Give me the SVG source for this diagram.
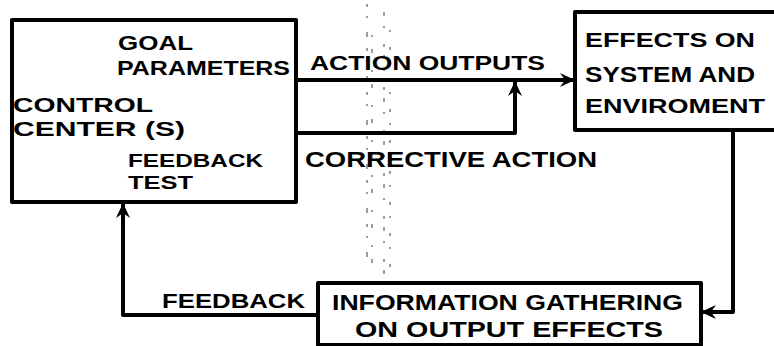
<svg xmlns="http://www.w3.org/2000/svg" width="774" height="346" viewBox="0 0 774 346">
  <style>
    .box { fill: none; stroke: #000; stroke-width: 4; stroke-linejoin: round; }
    .wire { fill: none; stroke: #000; stroke-width: 4; stroke-linejoin: round; }
    .lbl { font-family: "Liberation Sans", "DejaVu Sans", sans-serif; font-weight: bold; fill: #000; }
    .speck { stroke: #000; stroke-width: 1.4; fill: none; opacity: 0.55; }
  </style>
  <defs>
    <marker id="head" markerUnits="userSpaceOnUse" markerWidth="16" markerHeight="16" viewBox="0 0 16 16" refX="14" refY="8" orient="auto">
      <path d="M0,1 L15,8 L0,15 L5,8 z" fill="#000"/>
    </marker>
  </defs>
  <rect width="774" height="346" fill="#fff"/>

  <!-- faint scanner specks -->
  <g id="specks">
    <path class="speck" d="M367,4 V262" stroke-dasharray="3 9 2 14 5 11"/>
    <path class="speck" d="M372,35 V270" stroke-dasharray="2 12 4 17"/>
    <path class="speck" d="M384,12 V285" stroke-dasharray="4 10 2 16 3 8"/>
    <path class="speck" d="M390,30 V268" stroke-dasharray="2 15 3 11"/>
  </g>

  <g id="connectors">
    <path class="wire" d="M296,80 H574" marker-end="url(#head)"/>
    <path class="wire" d="M296,133 H515 V82" marker-end="url(#head)"/>
    <path class="wire" d="M733,130 V312 H702" marker-end="url(#head)"/>
    <path class="wire" d="M318,315 H123 V204" marker-end="url(#head)"/>
  </g>

  <g id="control-center">
    <rect class="box" x="12" y="20" width="284" height="182"/>
    <text class="lbl" x="118" y="50" font-size="21" textLength="75" lengthAdjust="spacingAndGlyphs">GOAL</text>
    <text class="lbl" x="117" y="75" font-size="21" textLength="173" lengthAdjust="spacingAndGlyphs">PARAMETERS</text>
    <text class="lbl" x="13" y="112" font-size="21" textLength="140" lengthAdjust="spacingAndGlyphs">CONTROL</text>
    <text class="lbl" x="13" y="136" font-size="21" textLength="172" lengthAdjust="spacingAndGlyphs">CENTER (S)</text>
    <text class="lbl" x="128" y="167" font-size="19" textLength="135" lengthAdjust="spacingAndGlyphs">FEEDBACK</text>
    <text class="lbl" x="128" y="189" font-size="19" textLength="65" lengthAdjust="spacingAndGlyphs">TEST</text>
  </g>

  <g id="effects">
    <path class="box" d="M780,12 H575 V130 H780"/>
    <text class="lbl" x="585" y="47" font-size="20" textLength="170" lengthAdjust="spacingAndGlyphs">EFFECTS ON</text>
    <text class="lbl" x="585" y="82" font-size="22" textLength="170" lengthAdjust="spacingAndGlyphs">SYSTEM AND</text>
    <text class="lbl" x="585" y="113" font-size="20" textLength="180" lengthAdjust="spacingAndGlyphs">ENVIROMENT</text>
  </g>

  <g id="information-gathering">
    <rect class="box" x="318" y="283" width="383" height="62"/>
    <text class="lbl" x="332" y="310" font-size="22" textLength="351" lengthAdjust="spacingAndGlyphs">INFORMATION GATHERING</text>
    <text class="lbl" x="355" y="337" font-size="22" textLength="308" lengthAdjust="spacingAndGlyphs">ON OUTPUT EFFECTS</text>
  </g>

  <g id="labels">
    <text class="lbl" x="310" y="70" font-size="20" textLength="235" lengthAdjust="spacingAndGlyphs">ACTION OUTPUTS</text>
    <text class="lbl" x="305" y="167" font-size="22" textLength="292" lengthAdjust="spacingAndGlyphs">CORRECTIVE ACTION</text>
    <text class="lbl" x="162" y="308" font-size="20" textLength="143" lengthAdjust="spacingAndGlyphs">FEEDBACK</text>
  </g>
</svg>
